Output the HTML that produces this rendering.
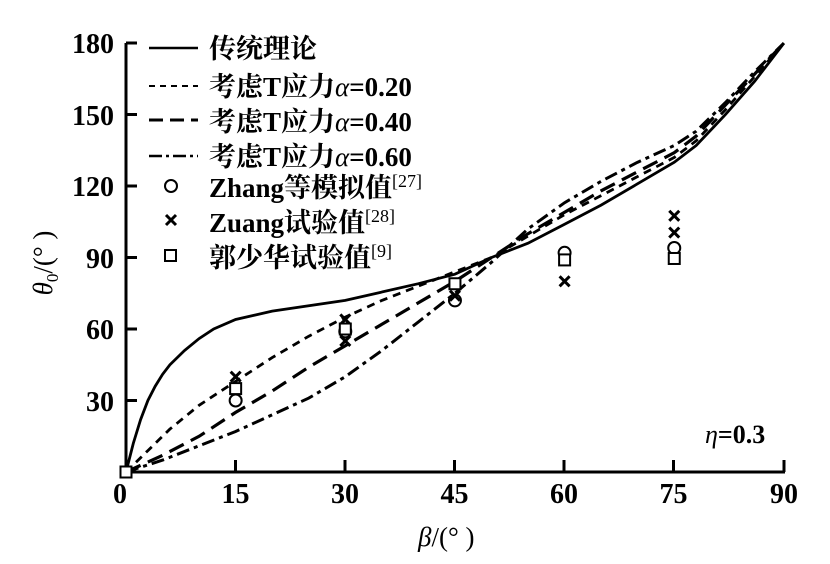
<!DOCTYPE html>
<html><head><meta charset="utf-8"><style>
html,body{margin:0;padding:0;background:#fff;width:830px;height:564px;overflow:hidden}
svg text{font-family:"Liberation Serif","Noto Serif CJK SC",serif;fill:#000}
.t{font-size:28px;font-weight:bold}
.lg{font-size:27px;font-weight:bold}
</style></head><body>
<svg id="s" width="830" height="564" viewBox="0 0 830 564" xmlns="http://www.w3.org/2000/svg">
<g stroke="#000" stroke-width="3" fill="none">
<line x1="126" y1="43" x2="126" y2="473"/>
<line x1="125" y1="472" x2="785" y2="472"/>
<line x1="126" y1="43" x2="137" y2="43"/><line x1="126" y1="114.5" x2="137" y2="114.5"/>
<line x1="126" y1="186" x2="137" y2="186"/><line x1="126" y1="257.5" x2="137" y2="257.5"/>
<line x1="126" y1="329" x2="137" y2="329"/><line x1="126" y1="400.5" x2="137" y2="400.5"/>
<line x1="235.5" y1="472" x2="235.5" y2="460"/><line x1="345" y1="472" x2="345" y2="460"/>
<line x1="454.5" y1="472" x2="454.5" y2="460"/><line x1="564" y1="472" x2="564" y2="460"/>
<line x1="673.5" y1="472" x2="673.5" y2="460"/><line x1="784" y1="472" x2="784" y2="460"/>
</g>
<g class="t" text-anchor="end">
<text x="114" y="53">180</text><text x="114" y="125">150</text><text x="114" y="196">120</text>
<text x="114" y="268">90</text><text x="114" y="339">60</text><text x="114" y="411">30</text>
</g>
<g class="t" text-anchor="middle">
<text x="120" y="503">0</text><text x="235.5" y="503">15</text><text x="345" y="503">30</text>
<text x="454.5" y="503">45</text><text x="564" y="503">60</text><text x="673.5" y="503">75</text><text x="784" y="503">90</text>
</g>
<text x="418" y="546" style="font-size:27px"><tspan font-style="italic">β</tspan>/(° )</text>
<text transform="translate(52,263) rotate(-90)" text-anchor="middle" style="font-size:27px"><tspan font-style="italic">θ</tspan><tspan font-size="17" dy="6">0</tspan><tspan dy="-6">/(° )</tspan></text>
<text x="705" y="443" style="font-size:26px;font-weight:bold"><tspan font-style="italic" font-weight="normal">η</tspan>=0.3</text>
<g id="curves" fill="none" stroke="#000" stroke-width="2.8"></g>
<g id="marks" fill="none" stroke="#000" stroke-width="2"></g>
<g stroke="#000" stroke-width="2.5">
<line x1="149" y1="48" x2="198" y2="48"/>
<line x1="149" y1="86" x2="198" y2="86" stroke-width="2" stroke-dasharray="6,5"/>
<line x1="149" y1="120" x2="198" y2="120" stroke-width="3" stroke-dasharray="14,7"/>
<line x1="149" y1="156" x2="198" y2="156" stroke-dasharray="13,4,3,4"/>
</g>
<g fill="none" stroke="#000" stroke-width="2">
<circle cx="171" cy="186" r="6"/>
<path d="M166 215 l10 10 M176 215 l-10 10" stroke-width="3"/>
<rect x="165" y="250" width="11" height="11"/>
</g>
<g class="lg">
<text x="209" y="58">传统理论</text>
<text x="209" y="96">考虑T应力<tspan font-style="italic" font-weight="normal">α</tspan>=0.20</text>
<text x="209" y="131">考虑T应力<tspan font-style="italic" font-weight="normal">α</tspan>=0.40</text>
<text x="209" y="166">考虑T应力<tspan font-style="italic" font-weight="normal">α</tspan>=0.60</text>
<text x="209" y="197">Zhang等模拟值<tspan font-size="18" dy="-10" font-weight="normal">[27]</tspan></text>
<text x="209" y="232">Zuang试验值<tspan font-size="18" dy="-10" font-weight="normal">[28]</tspan></text>
<text x="209" y="267">郭少华试验值<tspan font-size="18" dy="-10" font-weight="normal">[9]</tspan></text>
</g>
</svg>
<script>
const X=b=>126+7.31*b, Y=t=>472-2.383*t;
function path(pts){let d='';pts.forEach((p,i)=>{d+=(i?'L':'M')+X(p[0]).toFixed(1)+' '+Y(p[1]).toFixed(1);});return d;}
const curves=[
 {p:[[0,0],[1,12],[2,22],[3,30],[4,36],[5,41],[6,45],[8,51],[10,56],[12,60],[15,64],[20,67.5],[30,72],[40,79],[45,83],[50,90],[55,96],[60,104],[65,112],[70,121],[75,130],[78,137],[82,150],[86,164],[90,180]],da:''},
 {p:[[0,0],[3,9],[6,18],[10,28],[15,38],[20,48],[25,57],[30,65],[35,72],[40,78],[45,84],[50,90],[55,99],[60,108],[65,116],[70,124],[75,132],[78,139],[82,152],[86,166],[90,180]],da:'8,6',w:2.8},
 {p:[[0,0],[5,7],[10,15],[15,25],[20,34],[25,44],[30,53],[35,62],[40,71],[45,80],[50,90],[55,100],[60,109],[65,118],[70,126],[75,134],[78,141],[82,154],[86,167],[90,180]],da:'16,8',w:3.2},
 {p:[[0,0],[5,5],[10,11],[15,17],[20,24],[25,31],[30,40],[35,51],[40,63],[45,75],[50,88],[55,102],[60,113],[65,122],[70,130],[75,137],[78,143],[82,155],[86,168],[90,180]],da:'13,5,4,5',w:3}
];
const g=document.getElementById('curves');let h='';
curves.forEach(c=>{h+=`<path d="${path(c.p)}" stroke-dasharray="${c.da}" ${c.w?'stroke-width="'+c.w+'"':''}/>`;});
g.innerHTML=h;
const m=document.getElementById('marks');let s='';
const circ=[[15,30],[30,59],[45,72],[60,92],[75,94]];
const cross=[[15,40],[30,64],[30,55],[45,74],[60,80],[75,107.5],[75,100.5]];
const sq=[[0,0],[15,35],[30,60],[45,79],[60,89],[75,89.6]];
circ.forEach(p=>s+=`<circle cx="${X(p[0])}" cy="${Y(p[1])}" r="6"/>`);
cross.forEach(p=>{const x=X(p[0]),y=Y(p[1]);s+=`<path d="M${x-5} ${y-5}L${x+5} ${y+5}M${x+5} ${y-5}L${x-5} ${y+5}" stroke-width="3"/>`;});
sq.forEach(p=>{const x=X(p[0]),y=Y(p[1]);s+=`<rect x="${x-5.5}" y="${y-5.5}" width="11" height="11" fill="#fff"/>`;});
m.innerHTML=s;
</script>
</body></html>
